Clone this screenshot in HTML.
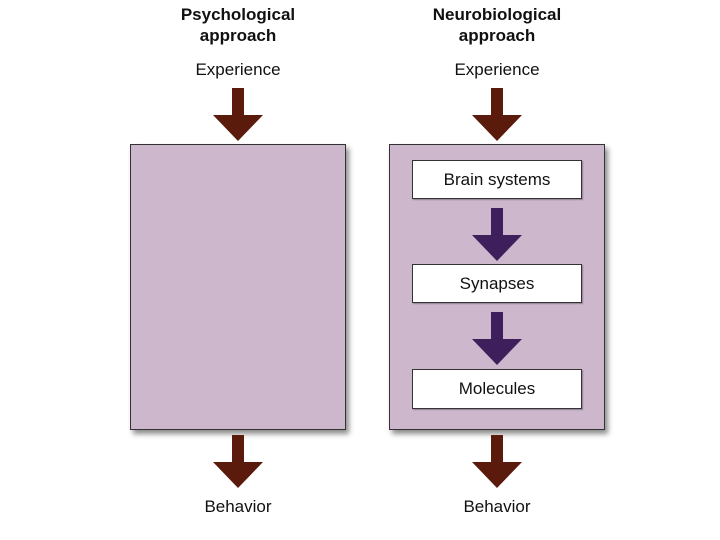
<!DOCTYPE html>
<html><head><style>
body{margin:0;width:720px;height:540px;background:#fff;position:relative;font-family:"Liberation Sans",sans-serif;overflow:hidden}
.t{position:absolute;text-align:center;width:200px;color:#111}
.b{font-weight:bold;font-size:17px;line-height:21px}
.n{font-size:17px}
.box{position:absolute;background:#cdb7cd;border:1.5px solid #333;box-shadow:3px 4px 5px rgba(0,0,0,0.45)}
.in{position:absolute;left:412px;width:168px;background:#fff;border:1.5px solid #333;font-size:17px;text-align:center;color:#111;box-shadow:1px 1px 1px rgba(0,0,0,0.3)}
</style></head><body>
<div class="t b" style="left:138px;top:4px">Psychological<br>approach</div>
<div class="t b" style="left:397px;top:4px">Neurobiological<br>approach</div>
<div class="t n" style="left:138px;top:60px">Experience</div>
<div class="t n" style="left:397px;top:60px">Experience</div>
<div class="t n" style="left:138px;top:497px">Behavior</div>
<div class="t n" style="left:397px;top:497px">Behavior</div>
<div class="box" style="left:130px;top:144px;width:214px;height:284px"></div>
<div class="box" style="left:389px;top:144px;width:214px;height:284px"></div>
<div class="in" style="top:160px;height:37px;line-height:37px">Brain systems</div>
<div class="in" style="top:264px;height:37px;line-height:37px">Synapses</div>
<div class="in" style="top:369px;height:38px;line-height:38px">Molecules</div>
<svg width="720" height="540" style="position:absolute;left:0;top:0">
<defs><path id="a" d="M-6,0 H6 V27 H25 L0,53 L-25,27 H-6 Z"/></defs>
<use href="#a" x="238" y="88" fill="#5a1a0c"/>
<use href="#a" x="497" y="88" fill="#5a1a0c"/>
<use href="#a" x="238" y="435" fill="#5a1a0c"/>
<use href="#a" x="497" y="435" fill="#5a1a0c"/>
<use href="#a" x="497" y="208" fill="#3e1f5c"/>
<use href="#a" x="497" y="312" fill="#3e1f5c"/>
</svg>
</body></html>
